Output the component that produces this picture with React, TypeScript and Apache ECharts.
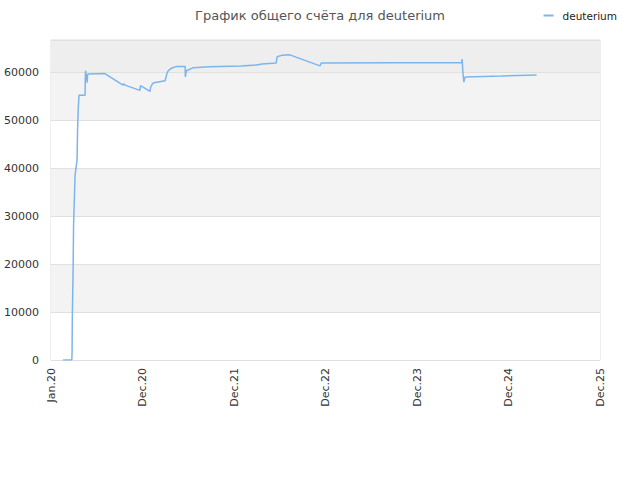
import React, { useEffect, useRef } from "react";
import * as echarts from "echarts";

const TITLE = "График общего счёта для deuterium";
const SERIES_NAME = "deuterium";

// x: days since 2020-01-01
const days = [
  48, 83, 84, 85, 88, 89, 90, 94, 96, 104, 106, 109, 112, 136, 137, 138, 144, 146, 150, 215,
  287, 290, 295, 355, 357, 395, 397, 405, 411, 455, 463, 468, 475, 480, 501, 535, 536, 540,
  566, 630, 758, 818, 842, 898, 902, 920, 953, 1073, 1078, 1638, 1640, 1643, 1647, 1651, 1655,
  1798, 1937,
];
const scores = [
  0, 0, 1500, 8500, 18000, 23000, 28000, 35000, 38500, 41700, 48000, 52800, 55200, 55200, 59500,
  60300, 57800, 59500, 59600, 59700, 57300, 57600, 57300, 56200, 57200, 56000, 56800, 57600,
  57800, 58200, 59800, 60300, 60600, 60800, 61200, 61200, 59000, 60300, 60900, 61100, 61300,
  61500, 61700, 61900, 63200, 63500, 63600, 61300, 61900, 62000, 62700, 60000, 57900, 58900,
  59000, 59200, 59400,
];
const xTickLabels = ["Jan.20", "Dec.20", "Dec.21", "Dec.22", "Dec.23", "Dec.24", "Dec.25"];
const yTicks = [0, 10000, 20000, 30000, 40000, 50000, 60000];

export default function App() {
  const ref = useRef<HTMLDivElement>(null);
  useEffect(() => {
    if (!ref.current) return;
    const chart = echarts.init(ref.current, null, { renderer: "svg" });
    const data = days.map((d, i) => [d, scores[i]]);
    chart.setOption({
      animation: false,
      title: {
        text: TITLE,
        left: "center",
        top: 4,
        textStyle: { fontSize: 13, fontWeight: "normal", color: "#555", fontFamily: "DejaVu Sans" },
      },
      legend: {
        right: 18,
        top: 5,
        icon: "rect",
        itemWidth: 10,
        itemHeight: 2,
        itemGap: 8,
        textStyle: { fontSize: 10.5, color: "#222", fontFamily: "DejaVu Sans", padding: [0, 0, 0, 4] },
        data: [SERIES_NAME],
      },
      grid: {
        left: 51,
        right: 40,
        top: 40,
        bottom: 120,
        show: true,
        borderColor: "#dddddd",
        borderWidth: 1,
        backgroundColor: "transparent",
      },
      xAxis: {
        type: "value",
        min: 0,
        max: 365 * 6,
        interval: 365,
        axisLine: { show: false },
        axisTick: { show: false },
        splitLine: { show: false },
        axisLabel: {
          rotate: 90,
          fontSize: 11,
          color: "#333",
          fontFamily: "DejaVu Sans",
          margin: 8,
          formatter: (v: number) => xTickLabels[Math.round(v / 365)] ?? "",
        },
      },
      yAxis: {
        type: "value",
        min: 0,
        max: 66700,
        interval: 10000,
        axisLine: { show: false },
        axisTick: { show: false },
        splitLine: { show: true, lineStyle: { color: "#e0e0e0", width: 1 } },
        splitArea: {
          show: true,
          areaStyle: {
            color: ["#ffffff", "#f3f3f3", "#ffffff", "#f3f3f3", "#ffffff", "#f3f3f3", "#eeeeee"],
          },
        },
        axisLabel: {
          fontSize: 11,
          color: "#333",
          fontFamily: "DejaVu Sans",
          margin: 12,
          formatter: (v: number) => (yTicks.includes(v) ? String(v) : ""),
        },
      },
      series: [
        {
          name: SERIES_NAME,
          type: "line",
          data,
          showSymbol: false,
          symbol: "none",
          lineStyle: { color: "#7cb5ec", width: 1.5 },
          itemStyle: { color: "#7cb5ec" },
        },
      ],
    });
    return () => chart.dispose();
  }, []);
  return (
    <div
      ref={ref}
      style={{ position: "absolute", left: 0, top: 0, width: 640, height: 480 }}
    />
  );
}
